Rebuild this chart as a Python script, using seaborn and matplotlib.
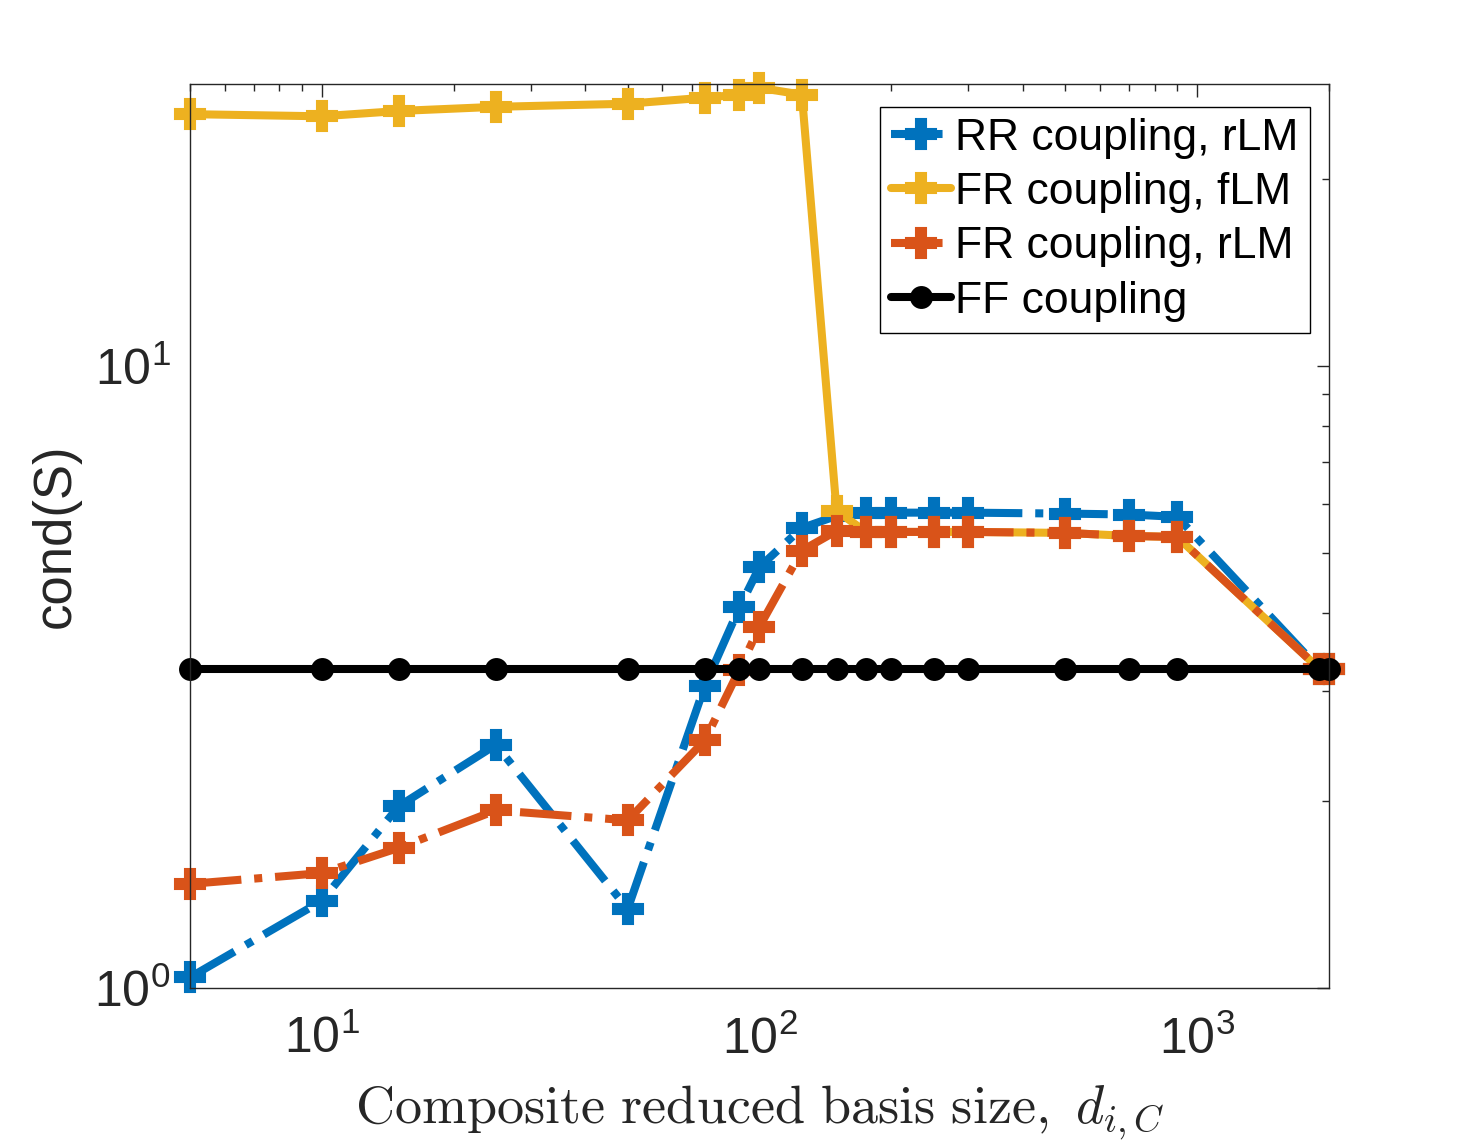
import numpy as np
import pandas as pd
import matplotlib
matplotlib.use("Agg")
import matplotlib.pyplot as plt
import seaborn as sns
from matplotlib.ticker import LogLocator, NullFormatter

# basis sizes
x_vals = [5, 10, 15, 25, 50, 75, 90, 100, 125, 150, 175, 200, 250, 300, 500, 700, 900, 1900, 2000]

# condition numbers
rr_rlm = [1.04, 1.38, 1.96, 2.46, 1.34, 3.06, 4.09, 4.75, 5.49, 5.74, 5.81, 5.81, 5.81, 5.81, 5.79, 5.77, 5.72, 3.26, 3.26]
fr_flm = [25.4, 25.2, 25.7, 26.1, 26.4, 27.0, 27.3, 28.0, 27.3, 5.85, 5.41, 5.41, 5.41, 5.41, 5.39, 5.33, 5.31, 3.26, 3.26]
fr_rlm = [1.47, 1.53, 1.68, 1.93, 1.86, 2.50, 3.25, 3.81, 5.05, 5.43, 5.41, 5.41, 5.41, 5.41, 5.39, 5.33, 5.31, 3.26, 3.26]
ff = [3.26] * len(x_vals)

labels = ["RR coupling, rLM", "FR coupling, fLM", "FR coupling, rLM", "FF coupling"]
colors = ["#0072BD", "#EDB120", "#D95319", "#000000"]

sns.set_theme(style="white")
plt.rcParams["font.family"] = ["Liberation Sans", "DejaVu Sans"]
plt.rcParams["mathtext.fontset"] = "cm"

fig = plt.figure(figsize=(14.68, 11.46), dpi=100)
ax = fig.add_axes([0.1294, 0.1379, 0.7759, 0.7888])

series = [rr_rlm, fr_flm, fr_rlm, ff]
styles = [("-.", "P", 21), ("-", "P", 21), ("-.", "P", 21), ("-", "o", 15)]
for lab, col, vals, (ls, mk, ms) in zip(labels, colors, series, styles):
    df = pd.DataFrame({"x": x_vals, "y": vals})
    sns.lineplot(data=df, x="x", y="y", ax=ax, color=col, linestyle=ls, linewidth=5.8,
                 marker=mk, markersize=ms, markeredgewidth=1.5, markeredgecolor=col,
                 label=lab, estimator=None, sort=False, clip_on=False)

ax.set_xscale("log")
ax.set_yscale("log")
ax.set_xlim(5, 2000)
ax.set_ylim(1, 28.4)

ax.xaxis.set_major_locator(LogLocator(base=10, numticks=10))
ax.xaxis.set_minor_locator(LogLocator(base=10, subs=np.arange(2, 10), numticks=20))
ax.yaxis.set_major_locator(LogLocator(base=10, numticks=10))
ax.yaxis.set_minor_locator(LogLocator(base=10, subs=np.arange(2, 10), numticks=20))
ax.xaxis.set_minor_formatter(NullFormatter())
ax.yaxis.set_minor_formatter(NullFormatter())

ax.tick_params(which="both", direction="in", top=True, right=True, colors="#262626",
               labelcolor="#262626", width=1.0)
ax.tick_params(which="major", length=9, labelsize=36)
ax.tick_params(axis="x", which="major", pad=20)
ax.tick_params(axis="y", which="major", pad=14)
ax.tick_params(which="minor", length=5)
for sp in ax.spines.values():
    sp.set_color("#262626")
    sp.set_linewidth(1.0)

ax.set_xlabel(r"$\mathrm{Composite\ reduced\ basis\ size,}\ d_{i,C}$", fontsize=39, labelpad=14,
              color="#262626")
ax.set_ylabel("cond(S)", fontsize=38, labelpad=10, color="#262626")

leg = ax.legend(loc="upper right", bbox_to_anchor=(0.983, 0.975), borderaxespad=0,
                fontsize=32, handlelength=1.35, handletextpad=0.1, labelspacing=0.3,
                borderpad=0.25, numpoints=1, fancybox=False, framealpha=1, edgecolor="black")
leg.get_frame().set_linewidth(1.0)
for t in leg.get_texts():
    t.set_color("black")

fig.savefig("out.png", dpi=100)
